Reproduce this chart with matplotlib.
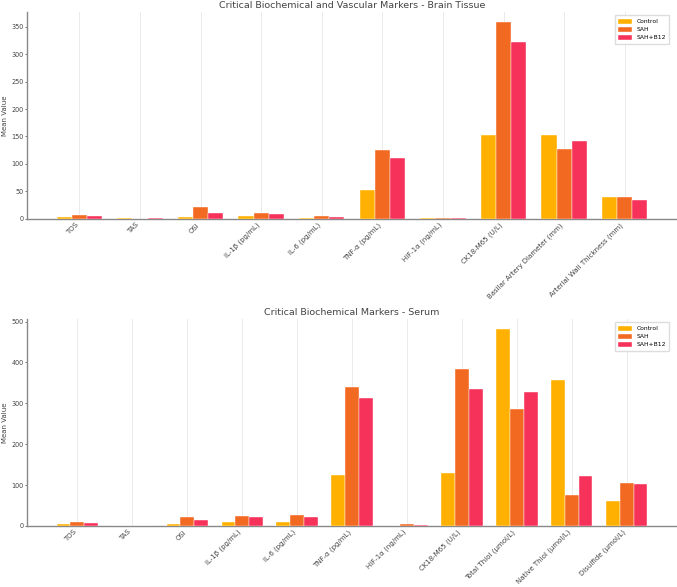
import numpy as np
import matplotlib
matplotlib.use("Agg")
import matplotlib.pyplot as plt

groups = ["Control", "SAH", "SAH+B12"]
colors = ["#FFB000", "#F26A22", "#F7325A"]

brain_labels = ["TOS", "TAS", "OSI", "IL-1β (pg/mL)", "IL-6 (pg/mL)", "TNF-α (pg/mL)",
                "HIF-1α (ng/mL)", "CK18-M65 (U/L)", "Basilar Artery Diameter (mm)",
                "Arterial Wall Thickness (mm)"]
brain_control = [3.0, 1.2, 3.6, 5.5, 1.8, 53, 1.0, 153.5, 153.5, 40]
brain_sah = [7.9, 0.8, 21, 10, 4.8, 126, 1.5, 358, 128, 40.5]
brain_b12 = [6.0, 0.9, 11, 8.5, 4.0, 110, 1.2, 322, 141.5, 34]

serum_labels = ["TOS", "TAS", "OSI", "IL-1β (pg/mL)", "IL-6 (pg/mL)", "TNF-α (pg/mL)",
                "HIF-1α (ng/mL)", "CK18-M65 (U/L)", "Total Thiol (µmol/L)",
                "Native Thiol (µmol/L)", "Disulfide (µmol/L)"]
serum_control = [4.9, 1.0, 5.7, 9.7, 9.7, 125.5, 1.0, 128.7, 481.5, 357.5, 62]
serum_sah = [9.7, 0.6, 21, 25, 27.5, 340.5, 4.0, 384, 286, 76, 104.5]
serum_b12 = [7.3, 0.6, 14.6, 21, 22, 312, 3.2, 336, 328, 123, 102]

fig = plt.figure(figsize=(6.77, 5.87), dpi=100)
ax1 = fig.add_axes([0.0400, 0.627, 0.9600, 0.352])
ax2 = fig.add_axes([0.0400, 0.104, 0.9600, 0.352])

txt = "#444444"

def draw(ax, labels, series, title):
    x = np.arange(len(labels))
    w = 0.25
    for i, (vals, c, g) in enumerate(zip(series, colors, groups)):
        ax.bar(x + (i - 1) * w, vals, w, color=c, label=g, edgecolor="white", linewidth=0.3, zorder=3)
    ax.set_xticks(x)
    ax.set_xticklabels(labels, rotation=45, ha="right", fontsize=5, color=txt)
    ax.tick_params(axis="y", labelsize=4.7, colors=txt, length=1.5, width=0.5, pad=1.2)
    ax.tick_params(axis="x", length=0, pad=2)
    ax.set_title(title, fontsize=6.8, color=txt, pad=3)
    ax.set_ylabel("Mean Value", fontsize=5, color=txt, labelpad=2)
    ax.grid(axis="x", color="#e6e6e6", linewidth=0.6, zorder=0)
    ax.set_axisbelow(True)
    for s in ["top", "right"]:
        ax.spines[s].set_visible(False)
    for s in ["left", "bottom"]:
        ax.spines[s].set_color("#888888")
        ax.spines[s].set_linewidth(1.0)
    ax.legend(loc="upper right", fontsize=4.3, frameon=True, framealpha=1,
              edgecolor="#dddddd", handlelength=2.2, handleheight=0.9,
              borderpad=0.6, labelspacing=0.4, fancybox=False,
              bbox_to_anchor=(0.993, 1.0))

draw(ax1, brain_labels, [brain_control, brain_sah, brain_b12],
     "Critical Biochemical and Vascular Markers - Brain Tissue")
draw(ax2, serum_labels, [serum_control, serum_sah, serum_b12],
     "Critical Biochemical Markers - Serum")

fig.savefig("out.png", dpi=100)
